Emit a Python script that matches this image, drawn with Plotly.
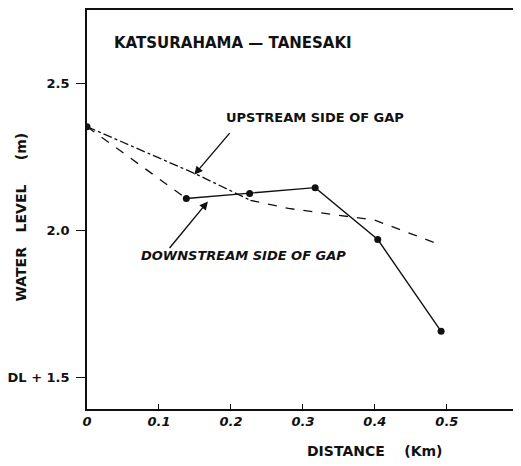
import plotly.graph_objects as go

# 下流側 (実線 + 黒丸)
down_x = [0.0, 0.138, 0.226, 0.317, 0.404, 0.492]
down_y = [2.354, 2.109, 2.126, 2.146, 1.969, 1.656]

# 上流側 (一点鎖線 -> 破線)
up_x = [0.0, 0.150, 0.227, 0.280, 0.320, 0.400, 0.490]
up_y = [2.354, 2.194, 2.103, 2.075, 2.062, 2.035, 1.952]

x_ticks = [0, 0.1, 0.2, 0.3, 0.4, 0.5]
x_labels = ['0', '0.1', '0.2', '0.3', '0.4', '0.5']
y_ticks = [1.5, 2.0, 2.5]
y_labels = ['DL + 1.5', '2.0', '2.5']

FONT = 'DejaVu Sans'
BLACK = '#111111'

fig = go.Figure()

# upstream: dash-dot part then dashed part
fig.add_trace(go.Scatter(
    x=up_x[:3], y=up_y[:3], mode='lines',
    line=dict(color=BLACK, width=1.3, dash='dashdot'),
    showlegend=False
))
fig.add_trace(go.Scatter(
    x=up_x[2:], y=up_y[2:], mode='lines',
    line=dict(color=BLACK, width=1.3, dash='dash'),
    showlegend=False
))

# downstream: dashed first segment, solid afterwards
fig.add_trace(go.Scatter(
    x=down_x[:2], y=down_y[:2], mode='lines',
    line=dict(color=BLACK, width=1.3, dash='dash'),
    showlegend=False
))
fig.add_trace(go.Scatter(
    x=down_x[1:], y=down_y[1:], mode='lines',
    line=dict(color=BLACK, width=1.4),
    showlegend=False
))
fig.add_trace(go.Scatter(
    x=down_x, y=down_y, mode='markers',
    marker=dict(color=BLACK, size=7),
    showlegend=False
))

txt = dict(family=FONT, size=13, color=BLACK, weight='bold')

fig.add_annotation(x=0.035, y=2.64, text='KATSURAHAMA — TANESAKI', showarrow=False,
                   xanchor='left', yanchor='middle', font=dict(txt, size=15))
fig.add_annotation(x=0.19, y=2.384, text='UPSTREAM SIDE OF GAP', showarrow=False,
                   xanchor='left', yanchor='middle', font=txt)
fig.add_annotation(x=0.072, y=1.915, text='<i>DOWNSTREAM SIDE OF GAP</i>', showarrow=False,
                   xanchor='left', yanchor='middle', font=txt)

# arrows
fig.add_annotation(x=0.149, y=2.190, ax=0.200, ay=2.337, axref='x', ayref='y',
                   text='', showarrow=True, arrowhead=2, arrowsize=1.2,
                   arrowwidth=1.4, arrowcolor=BLACK)
fig.add_annotation(x=0.168, y=2.099, ax=0.113, ay=1.935, axref='x', ayref='y',
                   text='', showarrow=True, arrowhead=2, arrowsize=1.2,
                   arrowwidth=1.4, arrowcolor=BLACK)

# axis titles
fig.add_annotation(xref='paper', yref='paper', x=-0.152, y=0.48,
                   xanchor='center', yanchor='middle',
                   text='WATER   LEVEL     (m)', showarrow=False, textangle=-90,
                   font=dict(txt, size=14))
fig.add_annotation(xref='paper', yref='paper', x=0.664, y=-0.105,
                   xanchor='center', yanchor='middle',
                   text='DISTANCE    (Km)', showarrow=False, font=dict(txt, size=14))

fig.update_xaxes(
    range=[0, 0.603], tickvals=x_ticks, ticktext=x_labels,
    ticks='inside', ticklen=5, tickwidth=1.3, tickcolor=BLACK,
    showline=True, linecolor=BLACK, linewidth=1.6, mirror=True,
    showgrid=False, zeroline=False,
    tickfont=dict(family=FONT, size=13, color=BLACK, weight='bold', style='italic')
)
fig.update_yaxes(
    range=[1.391, 2.752], tickvals=y_ticks, ticktext=y_labels,
    ticks='outside', ticklen=9, tickwidth=1.3, tickcolor=BLACK,
    ticklabelstandoff=4,
    showline=True, linecolor=BLACK, linewidth=1.6,
    showgrid=False, zeroline=False,
    tickfont=dict(family=FONT, size=13, color=BLACK, weight='bold')
)

# page has an 8px body margin, so the figure is shifted accordingly
fig.update_layout(
    width=513, height=458,
    margin=dict(l=74, r=0, t=1, b=57),
    plot_bgcolor='white', paper_bgcolor='white',
    showlegend=False
)

fig.write_html("out.html")
